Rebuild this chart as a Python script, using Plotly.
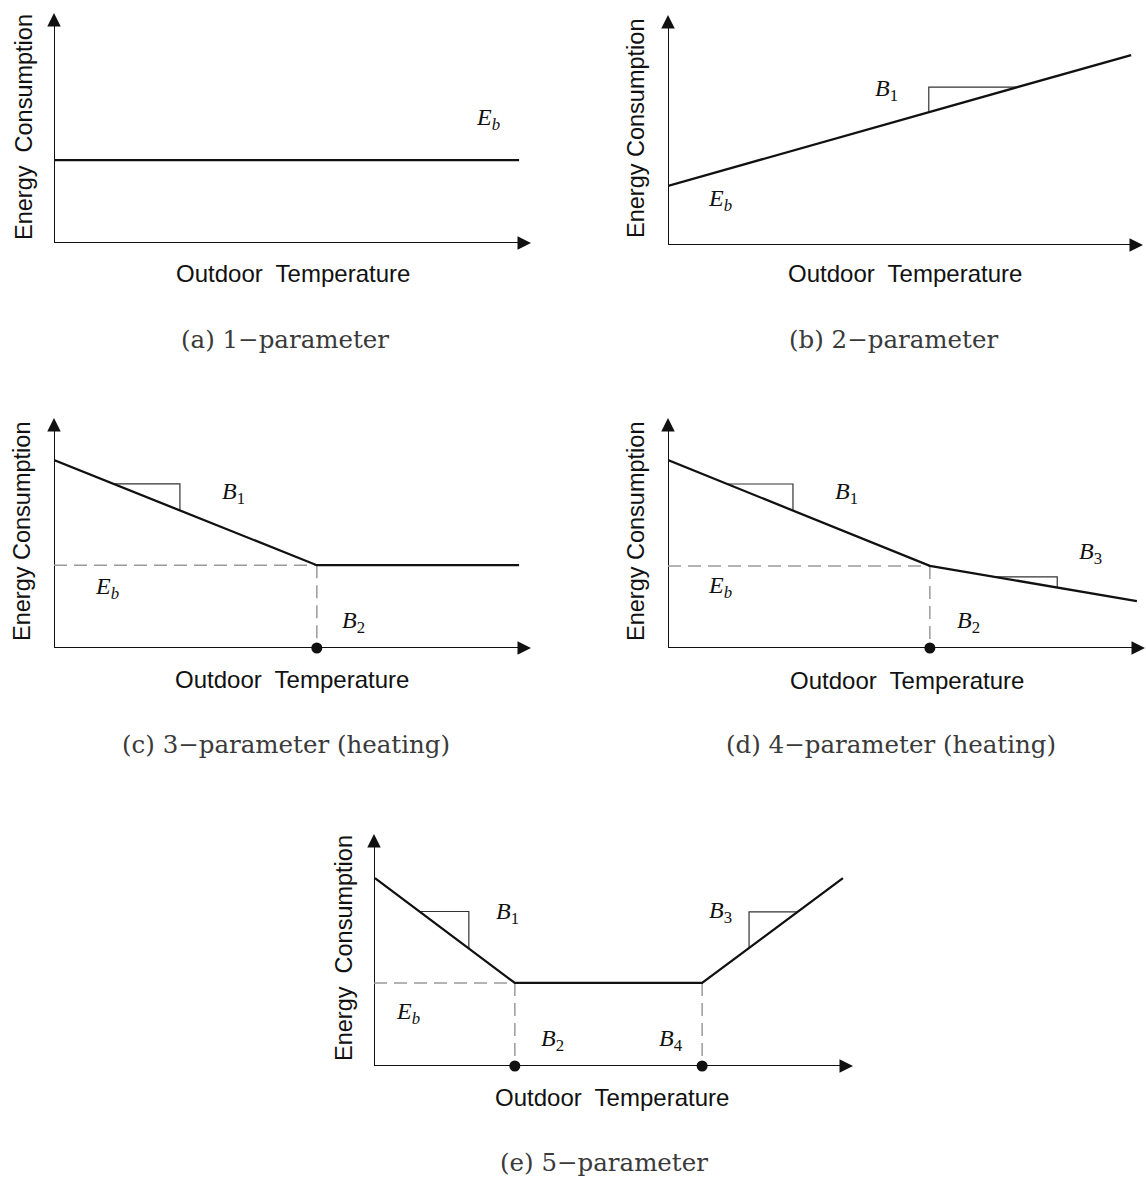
import numpy as np
import plotly.graph_objects as go

W, H = 1146, 1178

# ---- schematic data (units: outdoor temperature 0-10, energy 0-10) ----
a_x = [0, 9.75]
a_y = [3.6, 3.6]

b_x = [0, 9.75]
b_y = [2.57, 8.26]

c_x = [0, 5.51, 9.75]
c_y = [8.17, 3.6, 3.6]
c_change = [5.51]

d_x = [0, 5.49, 9.83]
d_y = [8.17, 3.57, 2.04]
d_change = [5.49]

e_x = [0.02, 2.94, 6.85, 9.79]
e_y = [8.1, 3.58, 3.58, 8.1]
e_change = [2.94, 6.85]

# slope-indicator triangles: (x_left, x_right) along each line
b_tri = [(5.49, 7.36)]
c_tri = [(1.25, 2.64)]
d_tri = [(1.24, 2.62), (6.85, 8.16)]
e_tri = [(0.95, 1.98), (7.83, 8.84)]

captions = ["(a) 1\u2212parameter", "(b) 2\u2212parameter",
            "(c) 3\u2212parameter (heating)", "(d) 4\u2212parameter (heating)",
            "(e) 5\u2212parameter"]
xlabel = "Outdoor\u00a0 Temperature"
ylabels = ["Energy\u00a0 Consumption", "Energy Consumption", "Energy Consumption",
           "Energy Consumption", "Energy\u00a0 Consumption"]

XMAX, YMAX = 10, 10

# panel boxes in pixels: (x_left, x_right, y_bottom, y_top)
boxes = [(54, 531, 243, 13), (668, 1143, 245, 15), (54, 531, 648, 418),
         (668, 1145, 648, 418), (374, 853, 1066, 834)]

fig = go.Figure()
layout = dict(width=W, height=H, margin=dict(l=0, r=0, t=0, b=0),
              paper_bgcolor="white", plot_bgcolor="white", showlegend=False)
for i, (x0, x1, yb, yt) in enumerate(boxes):
    sfx = "" if i == 0 else str(i + 1)
    layout["xaxis" + sfx] = dict(domain=[x0 / W, x1 / W], range=[0, XMAX], visible=False,
                                 anchor="y" + sfx, fixedrange=True)
    layout["yaxis" + sfx] = dict(domain=[1 - yb / H, 1 - yt / H], range=[0, YMAX], visible=False,
                                 anchor="x" + sfx, fixedrange=True)
fig.update_layout(**layout)

BLACK = "#111111"
SANS = "Liberation Sans, Arial, sans-serif"
SERIF = "Liberation Serif, Times New Roman, serif"
CAPF = "DejaVu Serif, serif"

annotations = []


def ax_ref(i):
    return ("x", "y") if i == 0 else ("x" + str(i + 1), "y" + str(i + 1))


def add_axes(i):
    xr, yr = ax_ref(i)
    fig.add_trace(go.Scatter(x=[0, XMAX - 0.2], y=[0, 0], mode="lines", xaxis=xr, yaxis=yr,
                             line=dict(color=BLACK, width=2), cliponaxis=False, hoverinfo="skip"))
    fig.add_trace(go.Scatter(x=[0, 0], y=[0, YMAX - 0.4], mode="lines", xaxis=xr, yaxis=yr,
                             line=dict(color=BLACK, width=2), cliponaxis=False, hoverinfo="skip"))
    # filled arrowheads at the axis ends
    for (tx, ty, sx, sy) in [(XMAX, 0, XMAX - 0.3, 0), (0, YMAX, 0, YMAX - 0.6)]:
        annotations.append(dict(x=tx, y=ty, ax=sx, ay=sy, xref=xr, yref=yr, axref=xr, ayref=yr,
                                text="", showarrow=True, arrowhead=2, arrowsize=1.35,
                                arrowwidth=2, arrowcolor=BLACK))


def add_curve(i, xs, ys, change=None, tris=None):
    xr, yr = ax_ref(i)
    if change:
        for cx in change:
            cy = float(np.interp(cx, xs, ys))
            fig.add_trace(go.Scatter(x=[cx, cx], y=[cy, 0], mode="lines", xaxis=xr, yaxis=yr,
                                     line=dict(color="#9a9a9a", width=1.5, dash="13px,7px"),
                                     cliponaxis=False, hoverinfo="skip"))
        cy0 = float(np.interp(change[0], xs, ys))
        fig.add_trace(go.Scatter(x=[0, change[0]], y=[cy0, cy0], mode="lines", xaxis=xr, yaxis=yr,
                                 line=dict(color="#9a9a9a", width=1.5, dash="13px,7px"),
                                 cliponaxis=False, hoverinfo="skip"))
    if tris:
        for xl, xrr in tris:
            yl = float(np.interp(xl, xs, ys))
            yrv = float(np.interp(xrr, xs, ys))
            if yl >= yrv:
                tx, ty = [xl, xrr, xrr], [yl, yl, yrv]
            else:
                tx, ty = [xl, xl, xrr], [yl, yrv, yrv]
            fig.add_trace(go.Scatter(x=tx, y=ty, mode="lines", xaxis=xr, yaxis=yr,
                                     line=dict(color="#333333", width=1.2),
                                     cliponaxis=False, hoverinfo="skip"))
    fig.add_trace(go.Scatter(x=xs, y=ys, mode="lines", xaxis=xr, yaxis=yr,
                             line=dict(color=BLACK, width=2.3), cliponaxis=False, hoverinfo="skip"))
    if change:
        fig.add_trace(go.Scatter(x=change, y=[0] * len(change), mode="markers", xaxis=xr, yaxis=yr,
                                 marker=dict(symbol="circle", size=11, color=BLACK),
                                 cliponaxis=False, hoverinfo="skip"))


for i in range(5):
    add_axes(i)

add_curve(0, a_x, a_y)
add_curve(1, b_x, b_y, tris=b_tri)
add_curve(2, c_x, c_y, change=c_change, tris=c_tri)
add_curve(3, d_x, d_y, change=d_change, tris=d_tri)
add_curve(4, e_x, e_y, change=e_change, tris=e_tri)


def lab(i, text, x, y):
    xr, yr = ax_ref(i)
    annotations.append(dict(text=text, x=x, y=y, xref=xr, yref=yr, showarrow=False,
                            xanchor="center", yanchor="middle",
                            font=dict(family=SERIF, size=24, color=BLACK)))


EB = "<i>E</i><sub><i>b</i></sub>"
lab(0, EB, 9.1, 5.4)
lab(1, "<i>B</i><sub>1</sub>", 4.61, 6.74)
lab(1, EB, 1.09, 1.96)
lab(2, "<i>B</i><sub>1</sub>", 3.77, 6.74)
lab(2, EB, 1.11, 2.6)
lab(2, "<i>B</i><sub>2</sub>", 6.27, 1.13)
lab(3, "<i>B</i><sub>1</sub>", 3.75, 6.74)
lab(3, "<i>B</i><sub>3</sub>", 8.85, 4.13)
lab(3, EB, 1.09, 2.65)
lab(3, "<i>B</i><sub>2</sub>", 6.29, 1.13)
lab(4, "<i>B</i><sub>1</sub>", 2.78, 6.6)
lab(4, "<i>B</i><sub>3</sub>", 7.24, 6.64)
lab(4, EB, 0.71, 2.28)
lab(4, "<i>B</i><sub>2</sub>", 3.72, 1.12)
lab(4, "<i>B</i><sub>4</sub>", 6.2, 1.12)

# axis titles and captions (pixel centres)
xlab_pos = [(293, 273), (905, 274), (292, 679), (907, 680), (612, 1097)]
ylab_pos = [(24, 127), (636, 129), (22, 532), (636, 532), (344, 948)]
cap_pos = [(285, 339), (893, 339), (286, 744), (891, 744), (604, 1162)]
for i in range(5):
    px, py = xlab_pos[i]
    annotations.append(dict(text=xlabel, x=px / W, y=1 - py / H, xref="paper", yref="paper",
                            showarrow=False, xanchor="center", yanchor="middle",
                            font=dict(family=SANS, size=24, color=BLACK)))
    px, py = ylab_pos[i]
    annotations.append(dict(text=ylabels[i], x=px / W, y=1 - py / H, xref="paper", yref="paper",
                            showarrow=False, xanchor="center", yanchor="middle", textangle=-90,
                            font=dict(family=SANS, size=23.5, color=BLACK)))
    px, py = cap_pos[i]
    annotations.append(dict(text=captions[i], x=px / W, y=1 - py / H, xref="paper", yref="paper",
                            showarrow=False, xanchor="center", yanchor="middle",
                            font=dict(family=CAPF, size=24.5, color="#3a3a3a")))

fig.update_layout(annotations=annotations)
fig.write_html("out.html", config={"displayModeBar": False},
               post_script="document.body.style.margin='0';document.body.style.padding='0';"
                           "document.documentElement.style.overflow='hidden';")
